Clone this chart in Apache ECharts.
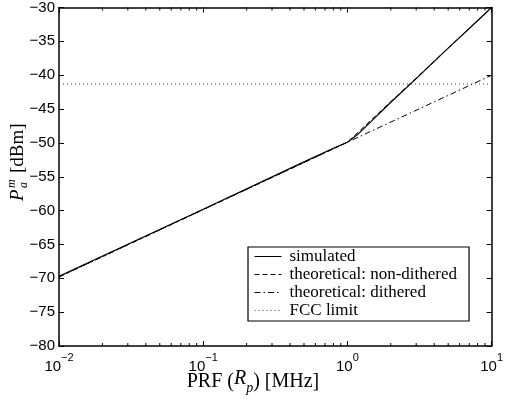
<!DOCTYPE html>
<html><head><meta charset="utf-8">
<script src="https://cdn.jsdelivr.net/npm/echarts@6/dist/echarts.min.js"></script>
<style>html,body{margin:0;padding:0;background:#fff}#c{width:506px;height:406px}</style>
</head><body><div id="c"></div>
<script>
// data
var simX = [0.01, 0.1, 0.5, 0.8, 1.0, 1.2, 1.5, 2, 3, 5, 7, 10];
var simY = [-69.7, -59.8, -52.8, -50.8, -49.9, -48.6, -46.6, -44.0, -40.5, -36.0, -33.1, -30.0];
var nonDithX = [0.01, 1.0, 10];
var nonDithY = [-69.8, -49.9, -30.0];
var dithX = [0.01, 1.0, 10];
var dithY = [-69.8, -49.9, -40.0];
var fccX = [0.01, 10];
var fccY = [-41.3, -41.3];
var minorTicks = [0.02,0.03,0.04,0.05,0.06,0.07,0.08,0.09,0.2,0.3,0.4,0.5,0.6,0.7,0.8,0.9,2,3,4,5,6,7,8,9];

function zip(a,b){return a.map(function(v,i){return [v,b[i]];});}

var chart = echarts.init(document.getElementById('c'), null, {renderer:'canvas'});
var sans = 'Liberation Sans';
var serif = 'Liberation Serif';
var axisLine = {show:true, onZero:false, lineStyle:{color:'#000', width:1.5}};

chart.setOption({
  animation:false,
  backgroundColor:'#fff',
  grid:{left:59, right:10, top:7, bottom:60, containLabel:false},
  xAxis:[{
    type:'log', logBase:10, min:0.01, max:10, position:'bottom',
    axisLine:axisLine,
    axisTick:{show:true, inside:true, length:5, lineStyle:{color:'#000', width:1}},
    splitLine:{show:false},
    axisLabel:{margin:6, color:'#000', fontFamily:sans,
      formatter:function(v){var e=Math.round(Math.log10(v)); return '{b|10}{s|'+String(e).replace('-','\u2212')+'}';},
      rich:{b:{fontSize:15, fontFamily:sans, color:'#000', verticalAlign:'bottom', lineHeight:22},
            s:{fontSize:11, fontFamily:sans, color:'#000', verticalAlign:'top', lineHeight:10}}}
  },{
    type:'log', logBase:10, min:0.01, max:10, position:'top',
    axisLine:axisLine,
    axisTick:{show:true, inside:true, length:5, lineStyle:{color:'#000', width:1}},
    axisLabel:{show:false}, splitLine:{show:false}
  }],
  yAxis:[{
    type:'value', min:-80, max:-30, interval:5, position:'left',
    axisLine:axisLine,
    axisTick:{show:true, inside:true, length:5, lineStyle:{color:'#000', width:1}},
    splitLine:{show:false},
    axisLabel:{margin:4, color:'#000', fontFamily:sans, fontSize:15,
      formatter:function(v){return String(v).replace('-','\u2212');}}
  },{
    type:'value', min:-80, max:-30, interval:5, position:'right',
    axisLine:axisLine,
    axisTick:{show:true, inside:true, length:5, lineStyle:{color:'#000', width:1}},
    axisLabel:{show:false}, splitLine:{show:false}
  }],
  legend:{
    orient:'vertical', left:248, top:247, width:210,
    backgroundColor:'#fff', borderColor:'#000', borderWidth:1.2, borderRadius:0,
    padding:[1,12,2,6], itemGap:1, itemWidth:27, itemHeight:16,
    itemStyle:{opacity:0},
    lineStyle:{width:1},
    textStyle:{fontFamily:serif, fontSize:17, color:'#000', padding:[0,0,0,3]},
    data:[{name:'simulated'},{name:'theoretical: non-dithered'},{name:'theoretical: dithered'},{name:'FCC limit'}]
  },
  graphic:[
    {type:'text', left:'center', top:369, z:10,
     style:{text:'PRF ({i|R}{sub|p}) [MHz]', fontFamily:serif, fontSize:20, fill:'#000',
       rich:{i:{fontFamily:serif, fontStyle:'italic', fontSize:20, verticalAlign:'top', lineHeight:22},
             sub:{fontFamily:serif, fontStyle:'italic', fontSize:14, verticalAlign:'bottom', lineHeight:26}}}},
    {type:'group', x:18, y:163, rotation:Math.PI/2, z:10, children:[
      {type:'text', x:-38, y:0, style:{text:'P', fontFamily:serif, fontStyle:'italic', fontSize:19, fill:'#000', verticalAlign:'middle'}},
      {type:'text', x:-25, y:-6, style:{text:'m', fontFamily:serif, fontStyle:'italic', fontSize:12, fill:'#000', verticalAlign:'middle'}},
      {type:'text', x:-25, y:6, style:{text:'a', fontFamily:serif, fontStyle:'italic', fontSize:12, fill:'#000', verticalAlign:'middle'}},
      {type:'text', x:-10, y:0, style:{text:'[dBm]', fontFamily:serif, fontSize:19, fill:'#000', verticalAlign:'middle'}}
    ]}
  ],
  series:[
    {name:'simulated', type:'line', data:zip(simX,simY), symbol:'none', z:5,
     lineStyle:{color:'#000', width:1.2, type:'solid'}, itemStyle:{color:'#000'}},
    {name:'theoretical: non-dithered', type:'line', data:zip(nonDithX,nonDithY), symbol:'none', z:3,
     lineStyle:{color:'#000', width:1, type:[5,3]}, itemStyle:{color:'#000'}},
    {name:'theoretical: dithered', type:'line', data:zip(dithX,dithY), symbol:'none', z:3,
     lineStyle:{color:'#000', width:1, type:[6,3,1.5,3]}, itemStyle:{color:'#000'}},
    {name:'FCC limit', type:'line', data:zip(fccX,fccY), symbol:'none', z:3,
     lineStyle:{color:'#444', width:1, type:[1,3]}, itemStyle:{color:'#444'}},
    {name:'minor', type:'custom', silent:true, z:6, clip:false,
     data:minorTicks.map(function(v){return [v,-80];}),
     renderItem:function(params, api){
       var v = api.value(0);
       var b = api.coord([v,-80]);
       var t = api.coord([v,-30]);
       var st = {stroke:'#000', lineWidth:1};
       return {type:'group', children:[
         {type:'line', shape:{x1:b[0], y1:b[1], x2:b[0], y2:b[1]-3}, style:st},
         {type:'line', shape:{x1:t[0], y1:t[1], x2:t[0], y2:t[1]+3}, style:st}
       ]};
     }}
  ]
});
</script></body></html>
